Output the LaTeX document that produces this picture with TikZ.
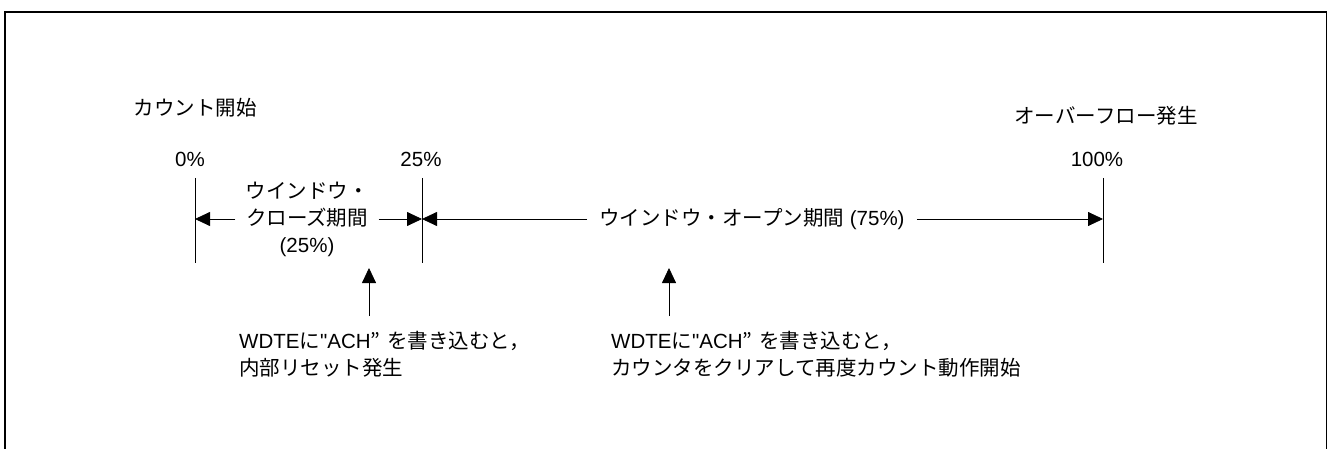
\documentclass[tikz,border=0pt]{standalone}
\usepackage{fontspec}
\setmainfont{Liberation Sans}[Ligatures=TeXOff]
\newfontfamily\jp{Noto Sans CJK JP}
\usetikzlibrary{arrows.meta}
\pgfdeclarelayer{edgelayer}
\pgfdeclarelayer{nodelayer}
\pgfsetlayers{edgelayer,nodelayer,main}
\tikzstyle{none}=[inner sep=0pt,font=\fontsize{20.5}{27}\selectfont]
\tikzstyle{period}=[align=center,inner xsep=10pt,inner ysep=0pt,font=\fontsize{20.5}{27}\selectfont]
\tikzstyle{note}=[anchor=west,align=left,inner sep=0pt,font=\fontsize{20.5}{27}\selectfont]
\tikzstyle{boundary}=[draw=black,line width=0.8pt]
\tikzstyle{interval}=[-{Triangle[length=15pt,width=14pt]},draw=black,line width=0.8pt]
\tikzstyle{panel}=[draw=black,line width=1.6pt]

\begin{document}
\begin{tikzpicture}[x=1pt,y=-1pt]
	\useasboundingbox (0,0) rectangle (1330,449);
	\begin{pgfonlayer}{nodelayer}
		\node [style=none] (0) at (195, 108) {\jp カウント開始};
		\node [style=none] (1) at (1106, 116) {\jp オーバーフロー発生};
		\node [style=none] (2) at (190, 159) {0\%};
		\node [style=none] (3) at (421, 159) {25\%};
		\node [style=none] (4) at (1097, 159) {100\%};
		\node [style=period] (5) at (307, 219) {{\jp ウインドウ・}\\{\jp クローズ期間}\\(25\%)};
		\node [style=period, inner xsep=12pt] (6) at (752, 219) {{\jp ウインドウ・オープン期間} (75\%)};
		\node [style=note] (7) at (239, 354.5) {WDTE{\jp に}"ACH{\jp ”\hspace{7pt}を書き込むと，}\\{\jp 内部リセット発生}};
		\node [style=note] (8) at (611, 354.5) {WDTE{\jp に}"ACH{\jp ”\hspace{7pt}を書き込むと，}\\{\jp カウンタをクリアして再度カウント動作開始}};
		\coordinate (9) at (195, 178);
		\coordinate (10) at (195, 263);
		\coordinate (11) at (422, 178);
		\coordinate (12) at (422, 263);
		\coordinate (13) at (1103, 178);
		\coordinate (14) at (1103, 263);
		\coordinate (15) at (369, 316);
		\coordinate (16) at (369, 268);
		\coordinate (17) at (669, 316);
		\coordinate (18) at (669, 268);
	\end{pgfonlayer}
	\begin{pgfonlayer}{edgelayer}
		\draw [style=panel] (5, 449) -- (5, 12) -- (1326.5, 12) -- (1326.5, 449);
		\draw [style=boundary] (9) to (10);
		\draw [style=boundary] (11) to (12);
		\draw [style=boundary] (13) to (14);
		\draw [style=interval] (5.west) to (5.west -| 9);
		\draw [style=interval] (5.east) to (5.east -| 11);
		\draw [style=interval] (6.west) to (6.west -| 11);
		\draw [style=interval] (6.east) to (6.east -| 13);
		\draw [style=interval] (15) to (16);
		\draw [style=interval] (17) to (18);
	\end{pgfonlayer}
\end{tikzpicture}
\end{document}
